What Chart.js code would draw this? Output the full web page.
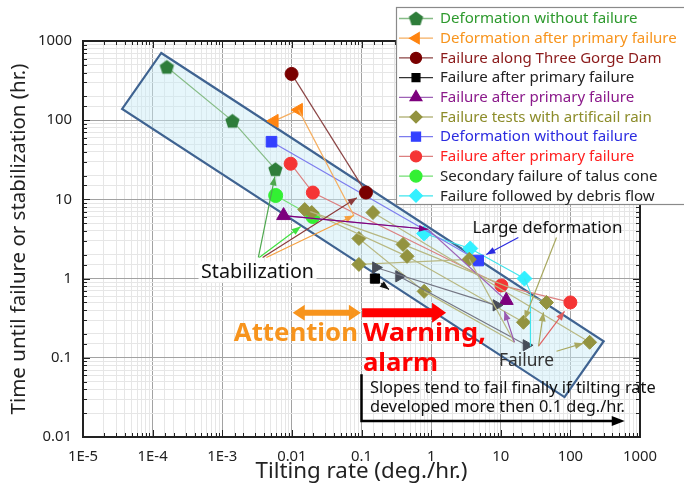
<!DOCTYPE html>
<html>
<head>
<meta charset="utf-8">
<script src="https://cdn.jsdelivr.net/npm/chart.js@4.4.0/dist/chart.umd.min.js"></script>
<style>
  html, body { margin: 0; padding: 0; background: #fff; }
</style>
</head>
<body>
<canvas id="chart" width="684" height="492"></canvas>
<script>
// tick labels
const xTickLabels = ['1E-5', '1E-4', '1E-3', '0.01', '0.1', '1', '10', '100', '1000']
const yTickLabels = ['0.01', '0.1', '1', '10', '100', '1000']

const legendLabels = [
  'Deformation without failure',
  'Deformation after primary failure',
  'Failure along Three Gorge Dam',
  'Failure after primary failure',
  'Failure after primary failure',
  'Failure tests with artificail rain',
  'Deformation without failure',
  'Failure after primary failure',
  'Secondary failure of talus cone',
  'Failure followed by debris flow'
]

// series: [tilting rate, time] pairs
const deformGreen = [[1.6e-4, 470], [1.4e-3, 98], [5.8e-3, 24]]
const deformOrange = [[5.6e-3, 98], [0.0125, 135]]
const threeGorge = [[0.0099, 384], [0.116, 12.2]]
const failBlack = [[0.156, 1.0]]
const failGrayA = [[0.161, 1.38], [8.65, 0.46]]
const failGrayB = [[0.346, 1.07], [23.4, 0.144]]
const failPurple = [[7.6e-3, 6.25], [0.9, 4.2], [12, 0.53]]
const rainOliveA = [[0.0153, 7.44], [0.395, 2.70], [45.4, 0.50]]
const rainOliveB = [[0.0193, 6.82], [0.451, 1.91], [21.2, 0.281]]
const rainOliveC = [[0.146, 6.82], [189, 0.157]]
const rainOliveD = [[0.0918, 3.21], [0.793, 0.69]]
const rainOliveE = [[0.0918, 1.51], [3.53, 1.75]]
const deformBlue = [[5.1e-3, 53.5], [4.75, 1.69]]
const failRed = [[9.6e-3, 28.2], [0.020, 12.2], [10.2, 0.82], [100, 0.50]]
const talusGreen = [[5.85e-3, 11.2], [0.020, 6.07]]
const debrisCyan = [[0.793, 3.71], [3.65, 2.40], [21.9, 1.0]]

// shaded trend band corners
const trendBox = [[1.33e-4, 706], [301, 0.162], [82.4, 0.0319], [3.65e-5, 139]]

const FONT = "'Noto Sans', 'DejaVu Sans', sans-serif"
const mctx = document.createElement('canvas').getContext('2d')
const fitSize = (text, target, weight) => {
  mctx.font = (weight || 'normal') + ' 100px ' + FONT
  return 100 * target / mctx.measureText(text).width
}

const pentagon = (color, r) => {
  const c = document.createElement('canvas')
  const s = Math.ceil(2 * r + 2)
  c.width = c.height = s
  const g = c.getContext('2d')
  g.beginPath()
  for (let i = 0; i < 5; i++) {
    const a = -Math.PI / 2 + i * 2 * Math.PI / 5
    g.lineTo(s / 2 + r * Math.cos(a), s / 2 + 0.6 + r * Math.sin(a))
  }
  g.closePath()
  g.fillStyle = color
  g.fill()
  return c
}

const st = {
  green:  { fill: '#2E7D3A', line: '#86BC86', text: '#2E9A2E', style: pentagon('#2E7D3A', 7.5), r: 7 },
  orange: { fill: '#FF8410', line: '#F5AE60', text: '#F7941D', style: 'triangle', r: 7.5, rot: -90 },
  maroon: { fill: '#7A0000', line: '#8B4545', text: '#8B1A1A', style: 'circle', r: 6.5 },
  black:  { fill: '#000000', line: '#333333', text: '#222222', style: 'rect', r: 6.5 },
  gray:   { fill: '#474C58', line: '#747684', text: '#222222', style: 'triangle', r: 6.5, rot: 90 },
  purple: { fill: '#7D007D', line: '#9E62B6', text: '#8B1A8B', style: 'triangle', r: 8 },
  olive:  { fill: '#93933F', line: '#B8B882', text: '#8C8C2A', style: 'rectRot', r: 7 },
  blue:   { fill: '#3340FF', line: '#7C7CEE', text: '#2B2BE0', style: 'rect', r: 7.5 },
  red:    { fill: '#F53535', line: '#DC8080', text: '#FF2020', style: 'circle', r: 6.5 },
  lime:   { fill: '#33F033', line: '#74DE74', text: '#222222', style: 'circle', r: 7 },
  cyan:   { fill: '#33F0FF', line: '#40E4EC', text: '#222222', style: 'rectRot', r: 7.5 }
}
const legendStyles = [st.green, st.orange, st.maroon, st.black, st.purple, st.olive, st.blue, st.red, st.lime, st.cyan]

// annotation arrows, in data units
const arrows = [
  // Stabilization
  { from: [3.3e-3, 1.85], to: [5.7e-3, 19.5], color: '#4FA84F' },
  { from: [3.4e-3, 1.85], to: [0.0134, 4.54], color: '#40E040' },
  { from: [3.8e-3, 1.85], to: [0.0859, 10.5], color: '#8B3A3A' },
  { from: [4.3e-3, 1.85], to: [0.0776, 6.25], color: '#F5A040' },
  // Large deformation
  { from: [17.9, 3.30], to: [6.2, 2.02], color: '#2B2BE0' },
  { from: [63.2, 3.30], to: [21.9, 0.306], color: '#A8A860' },
  // Failure
  { from: [15.7, 0.157], to: [11.3, 0.386], color: '#9A5AB0' },
  { from: [34.8, 0.140], to: [82.4, 0.386], color: '#E06060' },
  { from: [34.8, 0.140], to: [41.1, 0.375], color: '#A8A860' },
  { from: [63.2, 0.121], to: [155, 0.153], color: '#A8A860' },
  { from: [0.19, 0.87], to: [0.248, 0.73], color: '#111111' },
  { from: [7.6e-3, 6.25], to: [0.9, 4.2], color: '#7D007D' }
]
const plainLines = [
  { from: [0.0125, 135], to: [0.0776, 6.25], color: '#F5AE60' },
  { from: [21.9, 1.0], to: [26.7, 0.67], color: '#40E4EC' },
  { from: [26.7, 0.67], to: [26.7, 0.14], color: '#40E4EC' },
  { from: [0.793, 0.69], to: [15.7, 0.157], color: '#B8B882' },
  { from: [3.53, 1.75], to: [15.7, 0.157], color: '#B8B882' }
]

const isMajor = v => Math.abs(Math.log10(v) - Math.round(Math.log10(v))) < 1e-6

const series = (points, s, extra) => Object.assign({
  data: points.map(p => ({ x: p[0], y: p[1] })),
  showLine: true,
  borderColor: s.line,
  borderWidth: 1.2,
  pointStyle: s.style,
  pointRadius: s.r,
  pointHoverRadius: s.r,
  pointRotation: s.rot || 0,
  pointBackgroundColor: s.fill,
  pointBorderColor: s.fill,
  pointBorderWidth: 1,
  fill: false,
  tension: 0
}, extra || {})

const drawArrowHead = (ctx, x1, y1, x2, y2, color, hl, hw) => {
  const a = Math.atan2(y2 - y1, x2 - x1)
  ctx.fillStyle = color
  ctx.beginPath()
  ctx.moveTo(x2, y2)
  ctx.lineTo(x2 - hl * Math.cos(a) - hw * Math.sin(a), y2 - hl * Math.sin(a) + hw * Math.cos(a))
  ctx.lineTo(x2 - hl * Math.cos(a) + hw * Math.sin(a), y2 - hl * Math.sin(a) - hw * Math.cos(a))
  ctx.closePath()
  ctx.fill()
}

const drawText = (ctx, text, x, y, size, weight, color, align, width) => {
  ctx.save()
  ctx.font = weight + ' ' + size + 'px ' + FONT
  const w = ctx.measureText(text).width
  ctx.translate(x, y)
  if (width) ctx.scale(width / w, 1)
  ctx.textAlign = align
  ctx.textBaseline = 'alphabetic'
  ctx.fillStyle = color
  ctx.fillText(text, 0, 0)
  ctx.restore()
}

const notes = {
  id: 'notes',
  beforeDatasetsDraw(chart) {
    const { ctx, chartArea: a, scales } = chart
    const P = p => [scales.x.getPixelForValue(p[0]), scales.y.getPixelForValue(p[1])]
    ctx.save()
    ctx.beginPath()
    ctx.rect(a.left, a.top, a.right - a.left, a.bottom - a.top)
    ctx.clip()
    ctx.beginPath()
    trendBox.forEach((c, i) => { const [x, y] = P(c); i ? ctx.lineTo(x, y) : ctx.moveTo(x, y) })
    ctx.closePath()
    ctx.fillStyle = 'rgba(200, 234, 246, 0.45)'
    ctx.fill()
    ctx.lineWidth = 2.2
    ctx.strokeStyle = '#3F6391'
    ctx.stroke()
    ctx.restore()
  },
  afterDatasetsDraw(chart) {
    const { ctx, scales } = chart
    const P = p => [scales.x.getPixelForValue(p[0]), scales.y.getPixelForValue(p[1])]
    ctx.save()
    ctx.lineWidth = 1.2
    plainLines.forEach(l => {
      const [x1, y1] = P(l.from), [x2, y2] = P(l.to)
      ctx.strokeStyle = l.color
      ctx.beginPath(); ctx.moveTo(x1, y1); ctx.lineTo(x2, y2); ctx.stroke()
    })
    arrows.forEach(l => {
      const [x1, y1] = P(l.from), [x2, y2] = P(l.to)
      ctx.strokeStyle = l.color
      ctx.beginPath(); ctx.moveTo(x1, y1); ctx.lineTo(x2, y2); ctx.stroke()
      drawArrowHead(ctx, x1, y1, x2, y2, l.color, 9, 3.5)
    })

    // labels
    const lsz = fitSize('Stabilization', 113)
    const [sx, sy] = P([3.21e-3, 1.20])
    ctx.fillStyle = 'rgba(255,255,255,0.9)'
    ctx.fillRect(sx - 59, sy - 11, 118, 21)
    ctx.textBaseline = 'middle'
    ctx.textAlign = 'center'
    ctx.font = lsz + 'px ' + FONT
    ctx.fillStyle = '#111'
    ctx.fillText('Stabilization', sx, sy)
    const [lx, ly] = P([46.9, 4.29])
    ctx.font = fitSize('Large deformation', 150) + 'px ' + FONT
    ctx.fillText('Large deformation', lx, ly)
    const [fx, fy] = P([23.4, 0.0906])
    ctx.font = fitSize('Failure', 55) + 'px ' + FONT
    ctx.fillStyle = '#333'
    ctx.fillText('Failure', fx, fy)

    // attention / warning arrows
    const [ax1, ay] = P([0.0103, 0.37]), [ax2] = P([0.098, 0.37])
    ctx.strokeStyle = '#F7941D'
    ctx.lineWidth = 6
    ctx.beginPath(); ctx.moveTo(ax1 + 10, ay); ctx.lineTo(ax2 - 10, ay); ctx.stroke()
    drawArrowHead(ctx, ax2, ay, ax1, ay, '#F7941D', 12, 8)
    drawArrowHead(ctx, ax1, ay, ax2, ay, '#F7941D', 12, 8)
    const [rx1] = P([0.102, 0.37]), [rx2] = P([1.64, 0.37])
    ctx.strokeStyle = '#FF0000'
    ctx.lineWidth = 9
    ctx.beginPath(); ctx.moveTo(rx1, ay); ctx.lineTo(rx2 - 10, ay); ctx.stroke()
    drawArrowHead(ctx, rx1, ay, rx2, ay, '#FF0000', 14, 10)

    const [atx, aty] = P([0.0887, 0.162])
    drawText(ctx, 'Attention', atx, aty, 25, 'bold', '#F7941D', 'right', 124)
    const [wx, wy] = P([0.105, 0.162])
    drawText(ctx, 'Warning,', wx, wy, 25, 'bold', '#FF0000', 'left', 123)
    const [alx, aly] = P([0.105, 0.0678])
    drawText(ctx, 'alarm', alx, aly, 25, 'bold', '#FF0000', 'left', 75)

    // slope note with L-shaped arrow
    const nsz = fitSize('Slopes tend to fail finally if tilting rate', 286)
    const [n1x, n1y] = P([0.132, 0.0414])
    const [, n2y] = P([0.132, 0.0239])
    ctx.textAlign = 'left'
    ctx.textBaseline = 'middle'
    ctx.font = nsz + 'px ' + FONT
    ctx.fillStyle = '#111'
    ctx.fillText('Slopes tend to fail finally if tilting rate', n1x, n1y)
    ctx.fillText('developed more then 0.1 deg./hr.', n1x, n2y)
    const [vx, vy1] = P([0.1, 0.062]), [hx, hy] = P([604, 0.0159])
    ctx.strokeStyle = '#000'
    ctx.lineWidth = 2.5
    ctx.beginPath(); ctx.moveTo(vx, vy1); ctx.lineTo(vx, hy); ctx.lineTo(hx - 8, hy); ctx.stroke()
    drawArrowHead(ctx, vx, hy, hx, hy, '#000', 13, 5)
    ctx.restore()
  },
  afterDraw(chart) {
    const { ctx, chartArea: a, scales } = chart
    ctx.save()
    ctx.strokeStyle = '#222'
    ctx.lineWidth = 1
    scales.x.ticks.forEach(t => {
      const x = Math.round(scales.x.getPixelForValue(t.value)) + 0.5
      const len = isMajor(t.value) ? 7 : 4
      ctx.beginPath()
      ctx.moveTo(x, a.bottom); ctx.lineTo(x, a.bottom - len)
      ctx.moveTo(x, a.top); ctx.lineTo(x, a.top + len)
      ctx.stroke()
    })
    scales.y.ticks.forEach(t => {
      const y = Math.round(scales.y.getPixelForValue(t.value)) + 0.5
      const len = isMajor(t.value) ? 7 : 4
      ctx.beginPath()
      ctx.moveTo(a.left, y); ctx.lineTo(a.left + len, y)
      ctx.moveTo(a.right, y); ctx.lineTo(a.right - len, y)
      ctx.stroke()
    })
    ctx.lineWidth = 2
    ctx.strokeRect(a.left, a.top, a.right - a.left, a.bottom - a.top)

    // legend box
    ctx.fillStyle = '#fff'
    ctx.fillRect(396, 7, 300, 197)
    ctx.strokeStyle = '#8a8a8a'
    ctx.lineWidth = 1.2
    ctx.strokeRect(396.5, 7.5, 300, 197)
    const fsz = fitSize('Deformation after primary failure', 237)
    ctx.font = fsz + 'px ' + FONT
    ctx.textBaseline = 'middle'
    ctx.textAlign = 'left'
    legendLabels.forEach((label, i) => {
      const s = legendStyles[i]
      const y = 18.5 + i * 19.7
      ctx.strokeStyle = s.line
      ctx.lineWidth = 1.3
      ctx.beginPath(); ctx.moveTo(399, y); ctx.lineTo(433, y); ctx.stroke()
      ctx.fillStyle = s.fill
      ctx.strokeStyle = s.fill
      Chart.helpers.drawPoint(ctx, { pointStyle: s.style, radius: s.r * 0.85, rotation: s.rot || 0, borderWidth: 1 }, 416, y)
      ctx.fillStyle = s.text
      ctx.fillText(label, 440, y + 0.5)
    })
    ctx.restore()
  }
}

const tickSize = fitSize('1000', 34)
const gridColor = c => (c.tick && isMajor(c.tick.value)) ? '#a2a2a2' : '#e6e6e6'

new Chart(document.getElementById('chart'), {
  type: 'scatter',
  data: {
    datasets: [
      series(deformGreen, st.green),
      series(deformOrange, st.orange),
      series(threeGorge, st.maroon),
      series(failBlack, st.black),
      series(failGrayA, st.gray),
      series(failGrayB, st.gray),
      series(failPurple, st.purple, { pointRadius: c => c.dataIndex === 1 ? 0 : st.purple.r }),
      series(rainOliveA, st.olive),
      series(rainOliveB, st.olive),
      series(rainOliveC, st.olive),
      series(rainOliveD, st.olive),
      series(rainOliveE, st.olive),
      series(deformBlue, st.blue),
      series(failRed, st.red),
      series(talusGreen, st.lime),
      series(debrisCyan, st.cyan)
    ]
  },
  options: {
    responsive: false,
    animation: false,
    devicePixelRatio: 1,
    layout: { padding: { top: 41, right: 44, left: 0, bottom: 0 } },
    plugins: { legend: { display: false }, tooltip: { enabled: false } },
    scales: {
      x: {
        type: 'logarithmic',
        min: 1e-5,
        max: 1000,
        afterFit: s => { s.height = 55 },
        grid: { color: gridColor, lineWidth: 1, drawTicks: false },
        border: { display: false },
        ticks: {
          autoSkip: false, maxRotation: 0, minRotation: 0, padding: 11, color: '#222',
          font: { family: FONT, size: tickSize },
          callback: v => isMajor(v) ? xTickLabels[Math.round(Math.log10(v)) + 5] : ''
        },
        title: {
          display: true, text: 'Tilting rate (deg./hr.)', color: '#222',
          font: { family: FONT, size: fitSize('Tilting rate (deg./hr.)', 212) },
          padding: { top: 0, bottom: 7 }
        }
      },
      y: {
        type: 'logarithmic',
        min: 0.01,
        max: 1000,
        afterFit: s => { s.width = 83 },
        grid: { color: gridColor, lineWidth: 1, drawTicks: false },
        border: { display: false },
        ticks: {
          autoSkip: false, padding: 11, color: '#222',
          font: { family: FONT, size: tickSize },
          callback: v => isMajor(v) ? yTickLabels[Math.round(Math.log10(v)) + 2] : ''
        },
        title: {
          display: true, text: 'Time until failure or stabilization (hr.)', color: '#222',
          font: { family: FONT, size: fitSize('Time until failure or stabilization (hr.)', 351) },
          padding: { top: 7, bottom: 0 }
        }
      }
    }
  },
  plugins: [notes]
})
</script>
</body>
</html>
